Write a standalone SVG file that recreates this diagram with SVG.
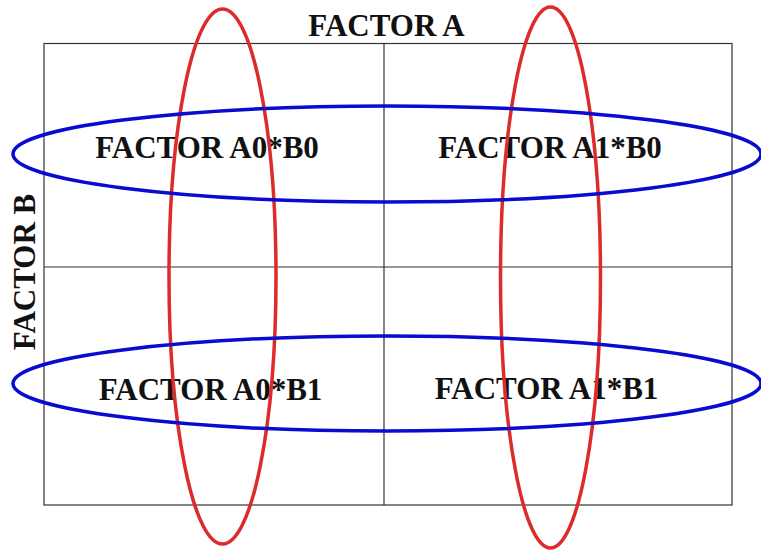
<svg xmlns="http://www.w3.org/2000/svg" width="761" height="550" viewBox="0 0 761 550">
<style>
.grid{fill:none;stroke:#333;stroke-width:1.2}
.lbl{font-family:"Liberation Serif","Times New Roman",serif;font-weight:bold;font-size:31px;fill:#111;text-anchor:middle}
.red{fill:none;stroke:#dd2a2a;stroke-width:3.5}
.blue{fill:none;stroke:#0a0ad0;stroke-width:3.5}
</style>
<rect width="761" height="550" fill="#fff"/>
<g id="grid">
<rect class="grid" x="44" y="43.5" width="688" height="461.5"/>
<line class="grid" x1="384" y1="43.5" x2="384" y2="505"/>
<line class="grid" x1="44" y1="267" x2="732" y2="267"/>
</g>
<g id="axis-a"><text class="lbl" x="386.5" y="36">FACTOR A</text></g>
<g id="axis-b"><text class="lbl" transform="translate(35,272) rotate(-90)" x="0" y="0">FACTOR B</text></g>
<g id="cell-a0b0"><text class="lbl" x="207" y="158">FACTOR A0*B0</text></g>
<g id="cell-a1b0"><text class="lbl" x="550" y="158">FACTOR A1*B0</text></g>
<g id="cell-a0b1"><text class="lbl" x="210.5" y="400">FACTOR A0*B1</text></g>
<g id="cell-a1b1"><text class="lbl" x="546.5" y="399">FACTOR A1*B1</text></g>
<g id="connectors">
<ellipse id="ell-a0" class="red" cx="222.5" cy="276.5" rx="53.5" ry="267.5"/>
<ellipse id="ell-a1" class="red" cx="550.5" cy="277.5" rx="50" ry="270.5"/>
<ellipse id="ell-b0" class="blue" cx="387" cy="154" rx="374" ry="48"/>
<ellipse id="ell-b1" class="blue" cx="387" cy="383.5" rx="374" ry="47.5"/>
</g>
</svg>
